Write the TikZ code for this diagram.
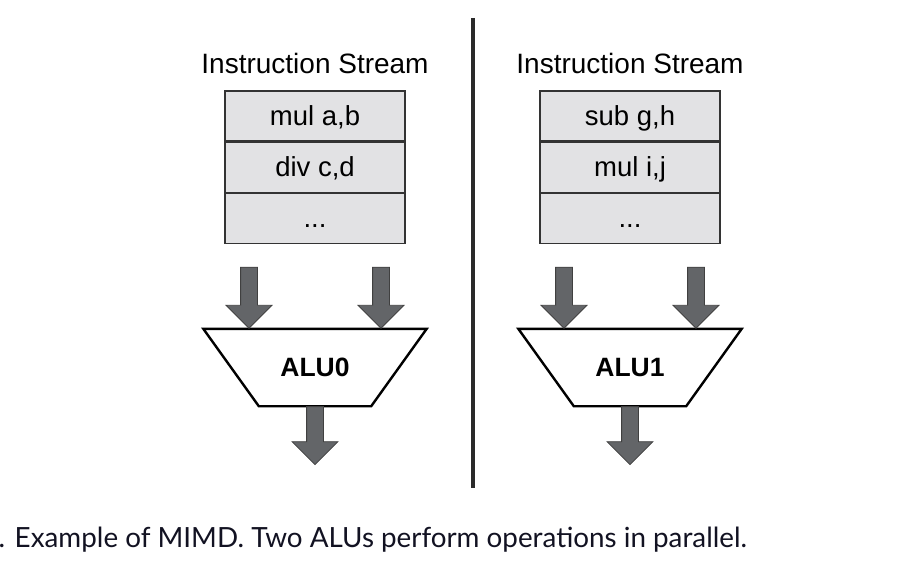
\documentclass[tikz,border=0pt]{standalone}
\usepackage{fontspec}
\setmainfont{Liberation Sans}
\newfontfamily\captionfont{Lato}
\usetikzlibrary{positioning,shapes.arrows}

\definecolor{cellgray}{RGB}{226,226,228}
\definecolor{arrowgray}{RGB}{99,101,104}
\definecolor{rulegray}{RGB}{42,42,42}
\definecolor{captionink}{RGB}{18,18,34}

\tikzset{
  cell/.style={draw=black!80, line width=1.2pt, fill=cellgray, minimum width=180pt, minimum height=50pt, inner sep=0pt, text height=20pt, text depth=1pt, font=\fontsize{27.5}{30}\selectfont},
  streamtitle/.style={anchor=base, inner sep=0pt, font=\fontsize{28}{32}\selectfont},
  alu/.style={minimum width=223pt, minimum height=77pt, inner sep=0pt, text height=17.5pt, text depth=0pt, font=\fontsize{26.5}{30}\selectfont\bfseries},
  aluedge/.style={draw, line width=2.4pt, line join=miter},
  blockarrow/.style={single arrow, draw=black!75, fill=arrowgray, line width=0.8pt, single arrow head extend=14.5pt, inner sep=8pt, rotate=-90},
  caption/.style={anchor=base west, inner sep=0pt, text=captionink, font=\captionfont\fontsize{27.8}{32}\selectfont}
}

\begin{document}
\begin{tikzpicture}[x=1pt, y=-1pt]
\useasboundingbox (0,0) rectangle (915,569);

% Two processors, side by side
\foreach \n/\x/\opa/\opb in {0/315/{mul a,b}/{div c,d}, 1/630/{sub g,h}/{mul i,j}} {
    % Instruction stream
    \node[streamtitle] (title\n) at (\x,74) {Instruction Stream};
    \node[cell] (opa\n) at (\x,116) {\opa};
    \node[cell, below=0pt of opa\n] (opb\n) {\opb};
    \node[cell, below=0pt of opb\n] (more\n) {...};

    % ALU
    \node[alu] (alu\n) at (\x,367.5) {ALU\n};
    \draw[aluedge] (alu\n.north west) -- (alu\n.north east)
        -- ([xshift=-55.5pt]alu\n.south east) -- ([xshift=55.5pt]alu\n.south west) -- cycle;

    % Operands in, result out
    \node[blockarrow, minimum height=61pt, anchor=tip] (ina\n) at ([xshift=-66pt]alu\n.north) {};
    \node[blockarrow, minimum height=61pt, anchor=tip] (inb\n) at ([xshift=66pt]alu\n.north) {};
    \node[blockarrow, minimum height=58pt, anchor=tail] (out\n) at (alu\n.south) {};
}

% Divider
\draw[rulegray, line width=3.6pt] (473,18) -- (473,488);

% Caption
\node[caption] (caption) at (-1.5,547) {. Example of MIMD. Two ALUs perform operations in parallel.};
\end{tikzpicture}
\end{document}
